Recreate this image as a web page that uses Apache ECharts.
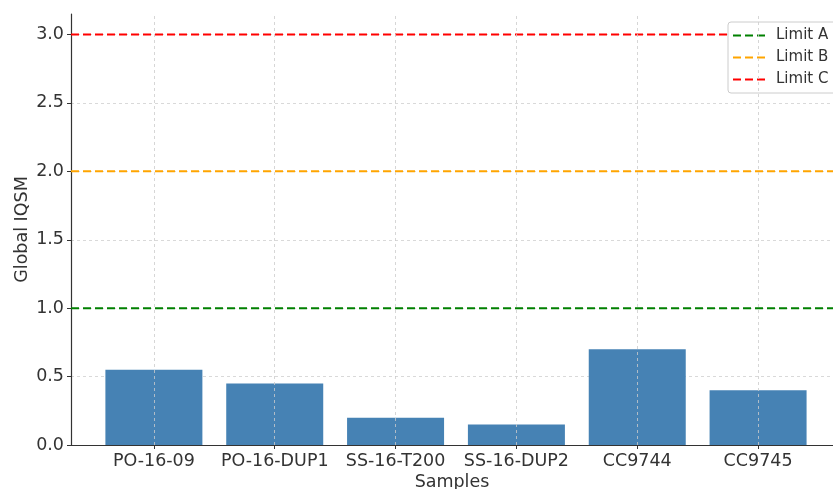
<!DOCTYPE html>
<html>
<head>
<meta charset="utf-8">
<script src="https://cdn.jsdelivr.net/npm/echarts@6/dist/echarts.min.js"></script>
<style>
  html, body { margin: 0; padding: 0; background: #fff; }
  #chart { width: 833px; height: 489px; }
</style>
</head>
<body>
<div id="chart"></div>
<script>
  // 样本名称与数值
  const categories = ['PO-16-09', 'PO-16-DUP1', 'SS-16-T200', 'SS-16-DUP2', 'CC9744', 'CC9745']
  const iqsmValues = [0.55, 0.45, 0.2, 0.15, 0.7, 0.4]
  // 限值线
  const limitNames = ['Limit A', 'Limit B', 'Limit C']
  const limitValues = [1.0, 2.0, 3.0]
  const limitColors = ['#008000', '#FFA500', '#FF0000']
  const yTicks = [0, 0.5, 1.0, 1.5, 2.0, 2.5, 3.0]

  const xMin = -0.686
  const xMax = 5.62
  const font = 'DejaVu Sans'
  const catIdx = categories.map((c, i) => i)

  let myChart = echarts.init(document.getElementById('chart'))

  let series = [{
    name: 'IQSM',
    type: 'bar',
    barWidth: 97,
    itemStyle: { color: '#4682B4' },
    data: iqsmValues.map((v, i) => [i, v]),
    z: 2,
    markLine: {
      silent: true,
      symbol: 'none',
      label: { show: false },
      lineStyle: { color: '#cccccc', type: [3, 3], width: 0.8 },
      data: catIdx.map(i => ({ xAxis: i }))
    }
  }]

  for (let i = 0; i < limitNames.length; i++) {
    series.push({
      name: limitNames[i],
      type: 'line',
      showSymbol: false,
      symbol: 'none',
      lineStyle: { color: limitColors[i], type: [8, 4], width: 2 },
      itemStyle: { color: limitColors[i] },
      data: [[xMin, limitValues[i]], [xMax, limitValues[i]]],
      z: 3
    })
  }

  let option = {
    backgroundColor: '#ffffff',
    animation: false,
    textStyle: { fontFamily: font },
    grid: { left: 71, right: 0, top: 14, bottom: 44, containLabel: false, outerBoundsMode: 'none' },
    legend: {
      left: 728,
      top: 22,
      orient: 'vertical',
      data: limitNames,
      icon: 'path://M0,0h8v2h-8z M12,0h8v2h-8z M24,0h8v2h-8z',
      itemWidth: 32,
      itemHeight: 2,
      itemGap: 7,
      padding: [6, 8, 6, 5],
      backgroundColor: '#ffffff',
      borderColor: '#cccccc',
      borderWidth: 1,
      borderRadius: 3,
      textStyle: { color: '#333333', fontSize: 15, fontFamily: font, padding: [0, 0, 0, 6] }
    },
    xAxis: {
      type: 'value',
      min: xMin,
      max: xMax,
      name: 'Samples',
      nameLocation: 'middle',
      nameGap: 28,
      nameMoveOverlap: false,
      nameTextStyle: { color: '#333333', fontSize: 17.5, fontFamily: font },
      axisLine: { show: true, onZero: false, lineStyle: { color: '#333333', width: 1.2 } },
      axisTick: { show: true, customValues: catIdx, length: 4, lineStyle: { color: '#333333' } },
      axisLabel: {
        customValues: catIdx,
        color: '#333333',
        fontSize: 17.5,
        margin: 7,
        formatter: function (v) { return categories[Math.round(v)] }
      },
      splitLine: { show: false }
    },
    yAxis: {
      type: 'value',
      min: 0,
      max: 3.15,
      name: 'Global IQSM',
      nameLocation: 'middle',
      nameGap: 40,
      nameMoveOverlap: false,
      nameTextStyle: { color: '#333333', fontSize: 17.5, fontFamily: font },
      axisLine: { show: true, onZero: false, lineStyle: { color: '#333333', width: 1.2 } },
      axisTick: { show: true, customValues: yTicks, length: 4, lineStyle: { color: '#333333' } },
      axisLabel: {
        customValues: yTicks,
        color: '#333333',
        fontSize: 17.5,
        margin: 7,
        formatter: function (v) { return v.toFixed(1) }
      },
      interval: 0.5,
      splitLine: { show: true, lineStyle: { color: '#d0d0d0', type: [3, 3], width: 0.8 } }
    },
    series: series
  }

  myChart.setOption(option)
</script>
</body>
</html>
